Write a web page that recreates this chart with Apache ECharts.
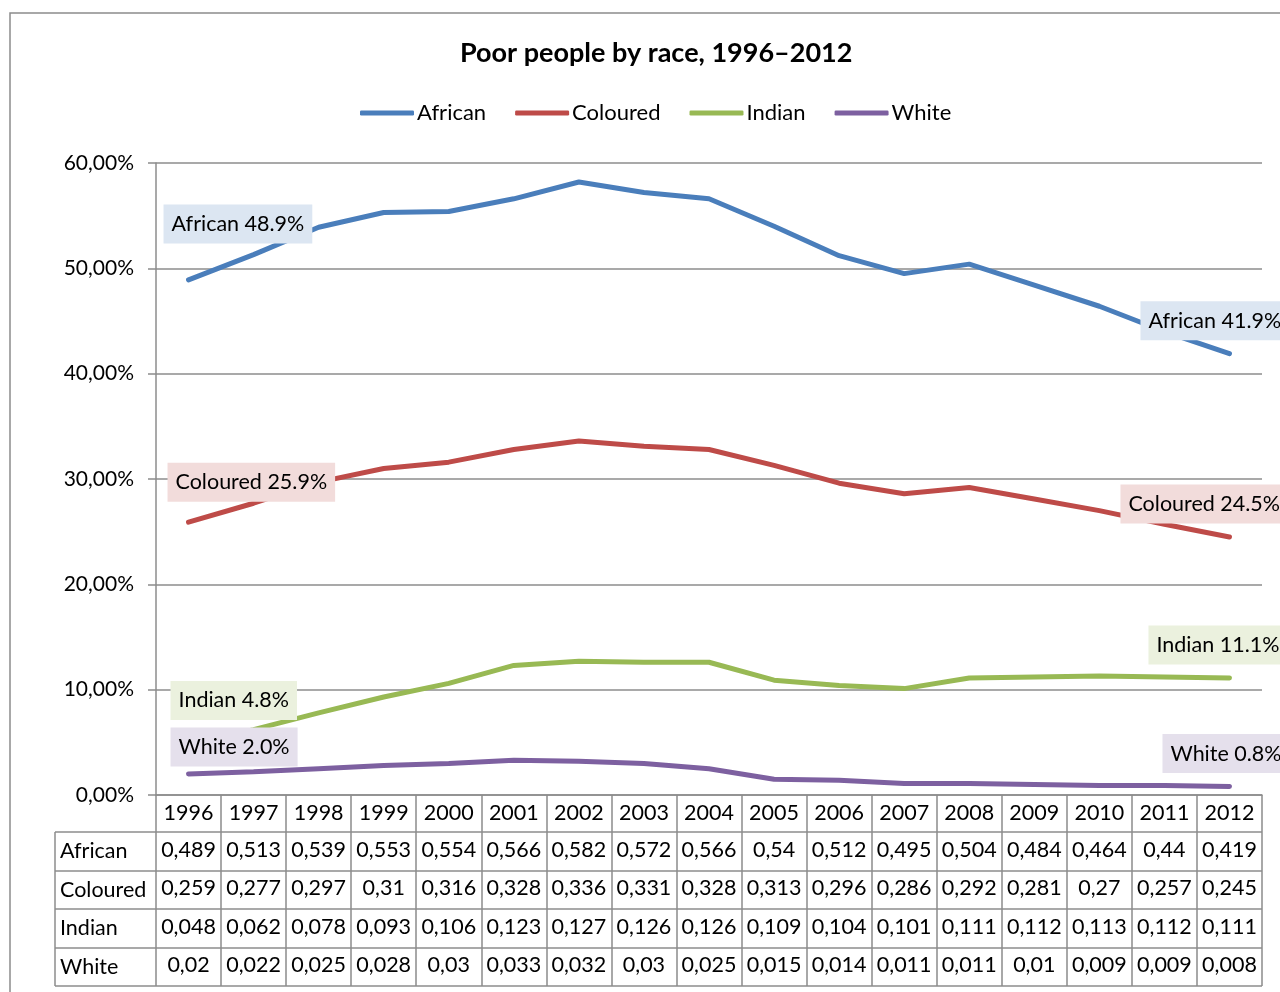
<!DOCTYPE html>
<html>
<head>
<meta charset="utf-8">
<script src="https://cdn.jsdelivr.net/npm/echarts@6/dist/echarts.min.js"></script>
<style>
  html, body { margin: 0; padding: 0; background: #fff; }
  #main { width: 1280px; height: 992px; }
</style>
</head>
<body>
<div id="main"></div>
<script>
// data
const years = ['1996','1997','1998','1999','2000','2001','2002','2003','2004','2005','2006','2007','2008','2009','2010','2011','2012'];
const african  = [0.489,0.513,0.539,0.553,0.554,0.566,0.582,0.572,0.566,0.54,0.512,0.495,0.504,0.484,0.464,0.44,0.419];
const coloured = [0.259,0.277,0.297,0.31,0.316,0.328,0.336,0.331,0.328,0.313,0.296,0.286,0.292,0.281,0.27,0.257,0.245];
const indian   = [0.048,0.062,0.078,0.093,0.106,0.123,0.127,0.126,0.126,0.109,0.104,0.101,0.111,0.112,0.113,0.112,0.111];
const white    = [0.02,0.022,0.025,0.028,0.03,0.033,0.032,0.03,0.025,0.015,0.014,0.011,0.011,0.01,0.009,0.009,0.008];

const names  = ['African', 'Coloured', 'Indian', 'White'];
const values = [african, coloured, indian, white];
const colors = ['#4a7ebb', '#be4b48', '#98b954', '#7d60a0'];
const labelBg = ['#dce6f2', '#f2dcdb', '#ebf1de', '#e5e0ec'];
// label offsets (first point, last point)
const firstOffset = [[-25, -56], [-21, -40], [-18, -44], [-18, -27]];
const lastOffset  = [[-89, -33], [-109, -33], [-81, -33], [-67, -33]];

const FONT = 'Lato, "Liberation Sans", sans-serif';
const gridLeft = 156, gridRight = 18, gridTop = 163, gridBottom = 197;
const rowOffsets = [37, 75, 114, 152];
const rowLines = [832, 871, 909, 948, 986];
const gray = '#8c8c8c';

let myChart = echarts.init(document.getElementById('main'));

function fmtCell(v) {
  return String(v).replace('.', ',');
}

function makeLabel(i, offset) {
  return {
    show: true,
    position: 'inside',
    align: 'left',
    verticalAlign: 'middle',
    offset: offset,
    formatter: p => p.seriesName + ' ' + (p.value * 100).toFixed(1) + '%',
    backgroundColor: labelBg[i],
    padding: [9, 8, 8, 8],
    color: '#000',
    fontFamily: FONT,
    fontSize: 21.5
  };
}

const xAxes = [{
  type: 'category',
  data: years,
  position: 'bottom',
  boundaryGap: true,
  axisLine: { lineStyle: { color: gray, width: 1.5 } },
  axisTick: { show: true, inside: false, length: 191, lineStyle: { color: gray, width: 1.5 } },
  axisLabel: { color: '#000', fontFamily: FONT, fontSize: 21.5, margin: 7 }
}];
values.forEach((arr, i) => {
  xAxes.push({
    type: 'category',
    data: arr.map(fmtCell),
    position: 'bottom',
    offset: rowOffsets[i],
    axisLine: { show: false },
    axisTick: { show: false },
    axisLabel: { color: '#000', fontFamily: FONT, fontSize: 21.5, margin: 7, interval: 0 }
  });
});

const graphics = [
  { type: 'rect', shape: { x: 10, y: 13, width: 1400, height: 1100 }, style: { fill: null, stroke: gray, lineWidth: 1.5 }, silent: true }
];
rowLines.forEach(y => {
  graphics.push({ type: 'line', shape: { x1: 55, y1: y, x2: 1280 - gridRight, y2: y }, style: { stroke: gray, lineWidth: 1.5 }, silent: true });
});
graphics.push({ type: 'line', shape: { x1: 55, y1: rowLines[0], x2: 55, y2: rowLines[4] }, style: { stroke: gray, lineWidth: 1.5 }, silent: true });
names.forEach((n, i) => {
  graphics.push({
    type: 'text',
    x: 60, y: (rowLines[i] + rowLines[i + 1]) / 2,
    style: { text: n, fill: '#000', font: '21.5px ' + FONT, textVerticalAlign: 'middle' },
    silent: true
  });
});

myChart.setOption({
  backgroundColor: '#fff',
  animation: false,
  title: {
    text: 'Poor people by race, 1996–2012',
    left: 455,
    top: 35,
    textStyle: { fontFamily: FONT, fontSize: 27, fontWeight: 'bold', color: '#000' }
  },
  legend: {
    top: 97,
    left: 355,
    icon: 'roundRect',
    itemWidth: 54,
    itemHeight: 5,
    itemGap: 29,
    textStyle: { fontFamily: FONT, fontSize: 22, color: '#000', padding: [0, 0, 0, -2] },
    data: names
  },
  grid: { left: gridLeft, right: gridRight, top: gridTop, bottom: gridBottom, containLabel: false },
  xAxis: xAxes,
  yAxis: {
    type: 'value',
    min: 0,
    max: 0.6,
    interval: 0.1,
    axisLine: { show: true, lineStyle: { color: gray, width: 1.5 } },
    axisTick: { show: true, length: 8, lineStyle: { color: gray, width: 1.5 } },
    splitLine: { lineStyle: { color: gray, width: 1.5 } },
    axisLabel: {
      color: '#000', fontFamily: FONT, fontSize: 21, margin: 22,
      formatter: v => (v * 100).toFixed(2).replace('.', ',') + '%'
    }
  },
  graphic: graphics,
  series: values.map((arr, i) => ({
    name: names[i],
    type: 'line',
    xAxisIndex: 0,
    data: arr.map((v, j) => {
      if (j === 0) return { value: v, label: makeLabel(i, firstOffset[i]) };
      if (j === arr.length - 1) return { value: v, label: makeLabel(i, lastOffset[i]) };
      return v;
    }),
    color: colors[i],
    lineStyle: { width: 5, color: colors[i], cap: 'round' },
    symbol: 'circle',
    symbolSize: 0.1,
    showSymbol: true,
    z: 3
  }))
});
</script>
</body>
</html>
